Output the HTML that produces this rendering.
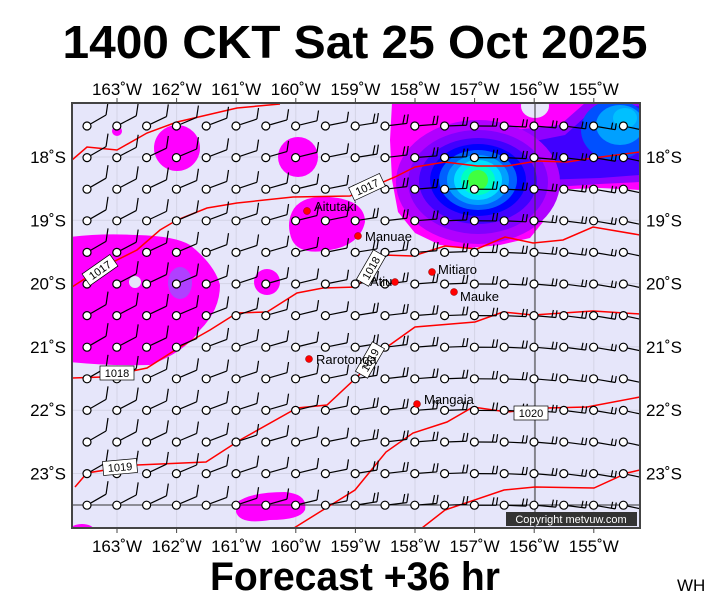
<!DOCTYPE html>
<html><head><meta charset="utf-8"><style>
html,body{margin:0;padding:0;background:#fff;}
svg{display:block;font-family:"Liberation Sans",sans-serif;}
</style></head><body>
<svg id="s" width="711" height="600" viewBox="0 0 711 600" xmlns="http://www.w3.org/2000/svg">
<rect width="711" height="600" fill="#fff"/>
<text x="355" y="58" text-anchor="middle" font-size="46" font-weight="bold" textLength="585" lengthAdjust="spacingAndGlyphs">1400 CKT Sat 25 Oct 2025</text>
<text x="355" y="590" text-anchor="middle" font-size="40" font-weight="bold" textLength="290" lengthAdjust="spacingAndGlyphs">Forecast +36 hr</text>
<text x="677" y="591" font-size="17">WH</text>
<defs><clipPath id="c"><rect x="72" y="103" width="568" height="425"/></clipPath></defs>
<rect x="72" y="103" width="568" height="425" fill="#e6e6fa"/>
<g clip-path="url(#c)">
<g id="grid" stroke="#d4d4e6" stroke-width="1"></g>
<g fill="#ff00ff">
<circle cx="117" cy="131" r="5"/>
<circle cx="177" cy="148" r="23"/>
<circle cx="298" cy="157" r="20"/>
<path d="M292,212 Q300,195 330,197 Q365,200 365,222 Q360,245 330,250 Q300,256 292,240 Q286,225 292,212Z"/>
<path d="M70,237 Q100,233 137,235 Q175,236 190,245 Q215,265 220,285 Q220,310 200,330 Q185,352 150,365 Q110,366 70,362Z"/>
<circle cx="267" cy="282" r="13"/>
<path d="M236,503 Q250,492 285,492 Q308,494 305,510 Q300,520 270,520 Q240,525 236,512Z"/>
<ellipse cx="82" cy="530" rx="12" ry="6"/>
<path d="M392,103 L640,103 L640,190 L600,188 L545,190 L537,200 L543,222 L530,238 L500,245 L470,248 L440,245 L415,233 L398,212 L392,180 L390,140Z"/>
</g>
<circle cx="135" cy="282" r="6" fill="#e6e6fa"/>
<ellipse cx="180" cy="283" rx="12" ry="16" fill="#b040ff"/>
<ellipse cx="535" cy="106" rx="14" ry="12" fill="#e6e6fa"/>
<path d="M470,135 L560,125 L585,103 L640,103 L640,182 L600,184 L540,188 L490,185Z" fill="#9000ff"/>
<path d="M490,150 L565,135 L595,108 L640,106 L640,175 L600,178 L540,180 L495,175Z" fill="#4000ff"/>
<ellipse cx="478" cy="182" rx="82" ry="62" fill="#b000ff"/>
<ellipse cx="478" cy="182" rx="70" ry="52" fill="#8000ff"/>
<ellipse cx="478" cy="181" rx="59" ry="43" fill="#4000ff"/>
<ellipse cx="478" cy="180" rx="48" ry="36" fill="#0000ff"/>
<ellipse cx="615" cy="130" rx="34" ry="30" fill="#0050ff"/>
<ellipse cx="620" cy="125" rx="24" ry="20" fill="#00a0ff"/>
<ellipse cx="625" cy="118" rx="12" ry="10" fill="#00c0ff"/>
<ellipse cx="478" cy="180" rx="39" ry="30" fill="#0060ff"/>
<ellipse cx="478" cy="180" rx="31" ry="25" fill="#00a0ff"/>
<ellipse cx="478" cy="180" rx="24" ry="20" fill="#00e0ff"/>
<ellipse cx="478" cy="180" rx="17" ry="15" fill="#00ffc0"/>
<ellipse cx="478" cy="180" rx="10" ry="10" fill="#40ff40"/>
<line x1="535" y1="103" x2="535" y2="528" stroke="#333" stroke-width="1"/>
<line x1="72" y1="505" x2="640" y2="505" stroke="#333" stroke-width="1"/>
<g fill="none" stroke="#ff0000" stroke-width="1.5">
<polyline points="72,160 87,147 117,150 147,133 177,122 237,108 280,104"/>
<polyline points="72,287 103,267 137,250 160,230 177,220 207,208 237,203 293,197 350,196 395,177 415,167 445,162 477,166 507,166 537,161 567,162 593,158 640,152"/>
<polyline points="72,378 103,377 147,368 180,347 210,330 237,313 267,312 297,293 323,288 357,287 383,255 413,256 445,246 477,249 505,237 533,243 563,240 593,227 640,235"/>
<polyline points="75,487 87,473 137,465 206,462 240,440 297,408 327,405 357,377 387,347 415,327 475,322 503,312 533,315 593,311 640,314"/>
<polyline points="294,528 355,490 386,452 413,433 447,422 473,407 507,412 547,408 587,407 640,397"/>
<polyline points="422,528 445,510 504,490 535,487 594,488 627,473 640,470"/>
</g>
<g id="barbs" stroke="#000" stroke-width="1.2" fill="none"></g>
<g id="stn" stroke="#000" stroke-width="1.2" fill="#fff"></g>
<g font-size="11" text-anchor="middle">
<g transform="translate(100,270) rotate(-35)"><rect x="-17" y="-7" width="34" height="14" fill="#fff" stroke="#000" stroke-width="0.7"/><text y="4">1017</text></g>
<g transform="translate(367,187) rotate(-25)"><rect x="-17" y="-7" width="34" height="14" fill="#fff" stroke="#000" stroke-width="0.7"/><text y="4">1017</text></g>
<g transform="translate(117,373)"><rect x="-17" y="-7" width="34" height="14" fill="#fff" stroke="#000" stroke-width="0.7"/><text y="4">1018</text></g>
<g transform="translate(371,268) rotate(-60)"><rect x="-17" y="-7" width="34" height="14" fill="#fff" stroke="#000" stroke-width="0.7"/><text y="4">1018</text></g>
<g transform="translate(120,467) rotate(-5)"><rect x="-17" y="-7" width="34" height="14" fill="#fff" stroke="#000" stroke-width="0.7"/><text y="4">1019</text></g>
<g transform="translate(370,360) rotate(-60)"><rect x="-17" y="-7" width="34" height="14" fill="#fff" stroke="#000" stroke-width="0.7"/><text y="4">1019</text></g>
<g transform="translate(531,413)"><rect x="-17" y="-7" width="34" height="14" fill="#fff" stroke="#000" stroke-width="0.7"/><text y="4">1020</text></g>
</g>
<g fill="#ff0000" stroke="#800" stroke-width="0.5">
<circle cx="307" cy="211" r="3.5"/><circle cx="358" cy="236" r="3.5"/><circle cx="432" cy="272" r="3.5"/>
<circle cx="454" cy="292" r="3.5"/><circle cx="395" cy="282" r="3.5"/><circle cx="309" cy="359" r="3.5"/><circle cx="417" cy="404" r="3.5"/>
</g>
<g font-size="13">
<text x="314" y="211">Aitutaki</text><text x="365" y="241">Manuae</text><text x="438" y="274">Mitiaro</text>
<text x="460" y="301">Mauke</text><text x="370" y="286">Atiu</text><text x="316" y="364">Rarotonga</text><text x="424" y="404">Mangaia</text>
</g>
<rect x="506" y="512" width="131" height="14" fill="#333"/>
<text x="571" y="523" text-anchor="middle" font-size="11" fill="#fff">Copyright metvuw.com</text>
</g>
<rect x="72" y="103" width="568" height="425" fill="none" stroke="#444" stroke-width="2"/>
<g id="lab" font-size="17"></g>
</svg>
<script>
var NS="http://www.w3.org/2000/svg";
function el(p,t,a,txt){var e=document.createElementNS(NS,t);for(var k in a)e.setAttribute(k,a[k]);if(txt)e.textContent=txt;document.getElementById(p).appendChild(e);}
var lons=[163,162,161,160,159,158,157,156,155];
lons.forEach(function(l,i){var x=117+i*59.6;
 el("grid","line",{x1:x,y1:103,x2:x,y2:528});
 el("lab","text",{x:x,y:95,"text-anchor":"middle"},l+"˚W");
 el("lab","text",{x:x,y:552,"text-anchor":"middle"},l+"˚W");
 el("lab","line",{x1:x,y1:98,x2:x,y2:103,stroke:"#444"});
 el("lab","line",{x1:x,y1:528,x2:x,y2:533,stroke:"#444"});
});
for(var j=0;j<6;j++){var y=157+j*63.3;
 el("grid","line",{x1:72,y1:y,x2:640,y2:y});
 el("lab","text",{x:66,y:y+6,"text-anchor":"end"},(18+j)+"˚S");
 el("lab","text",{x:646,y:y+6},(18+j)+"˚S");
}
for(var r=0;r<13;r++){var y=126+r*31.6;
 for(var c=0;c<19;c++){var x=87+c*29.8;
  var t=(x-87)/(624-87);
  var ang=(-30+t*42)*Math.PI/180;
  var L=22;
  var ex=x+Math.cos(ang)*L, ey=y+Math.sin(ang)*L;
  var sx=x+Math.cos(ang)*4.5, sy=y+Math.sin(ang)*4.5;
  el("barbs","line",{x1:sx,y1:sy,x2:ex,y2:ey});
  var bl=13-t*7;
  el("barbs","line",{x1:ex,y1:ey,x2:ex+bl*0.15,y2:ey-bl});
  if(t>0.45){var bx=ex-Math.cos(ang)*4,by=ey-Math.sin(ang)*4;
   el("barbs","line",{x1:bx,y1:by,x2:bx+bl*0.2,y2:by-bl});}
  el("stn","circle",{cx:x,cy:y,r:4});
 }
}
</script>
</body></html>
